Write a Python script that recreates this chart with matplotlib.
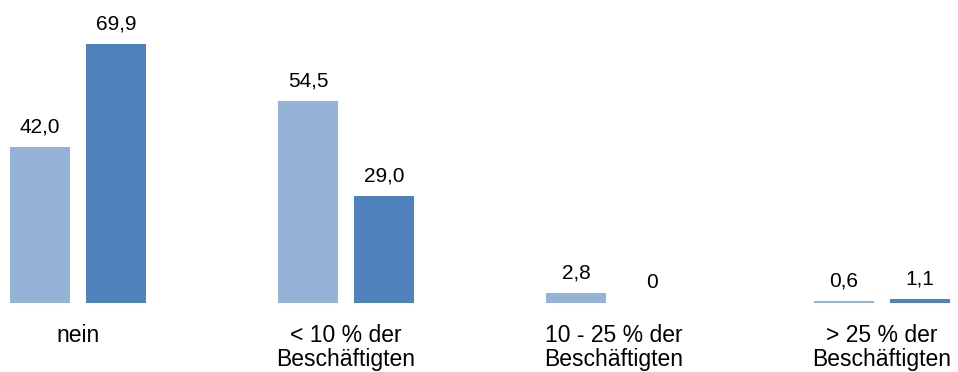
import matplotlib
matplotlib.use("Agg")
import matplotlib.pyplot as plt
import numpy as np
from matplotlib.transforms import offset_copy, blended_transform_factory

categories = ["nein", "< 10 % der\nBeschäftigten", "10 - 25 % der\nBeschäftigten", "> 25 % der\nBeschäftigten"]
series_a = [42.0, 54.5, 2.8, 0.6]
series_b = [69.9, 29.0, 0.0, 1.1]
labels_a = ["42,0", "54,5", "2,8", "0,6"]
labels_b = ["69,9", "29,0", "0", "1,1"]

color_a = "#95B3D7"
color_b = "#4F81BD"

plt.rcParams["font.family"] = ["Liberation Sans", "DejaVu Sans"]

W, H, DPI = 958, 372, 100
fig = plt.figure(figsize=(W / DPI, H / DPI), dpi=DPI)

base_px = 303          # pixel row of the baseline, from the top
ax = fig.add_axes([0, (H - base_px) / H, 1, base_px / H])

x = np.arange(len(categories))
width = 0.224
off = 0.142
bars_a = ax.bar(x - off, series_a, width, color=color_a, linewidth=0)
bars_b = ax.bar(x + off, series_b, width, color=color_b, linewidth=0)

px_per_unit = 268.0
ax.set_xlim(-78 / px_per_unit, (W - 78) / px_per_unit)
ax.set_ylim(0, base_px / 3.705)
ax.axis("off")

# value labels above each bar
lab_tr = offset_copy(ax.transData, fig=fig, x=0, y=14.5, units="dots")
for bars, labs in ((bars_a, labels_a), (bars_b, labels_b)):
    for b, t in zip(bars, labs):
        ax.text(b.get_x() + b.get_width() / 2, b.get_height(), t,
                transform=lab_tr, ha="center", va="baseline",
                fontsize=15, color="#000000")

# category labels under each group, one text per line
line_gap = 24
for xi, c in zip(x, categories):
    for k, line in enumerate(c.split("\n")):
        tr = offset_copy(blended_transform_factory(ax.transData, ax.transAxes),
                         fig=fig, x=0, y=-39 - k * line_gap, units="dots")
        ax.text(xi, 0, line, transform=tr, ha="center", va="baseline",
                fontsize=16.5, color="#000000")

fig.savefig("out.png", dpi=DPI)
